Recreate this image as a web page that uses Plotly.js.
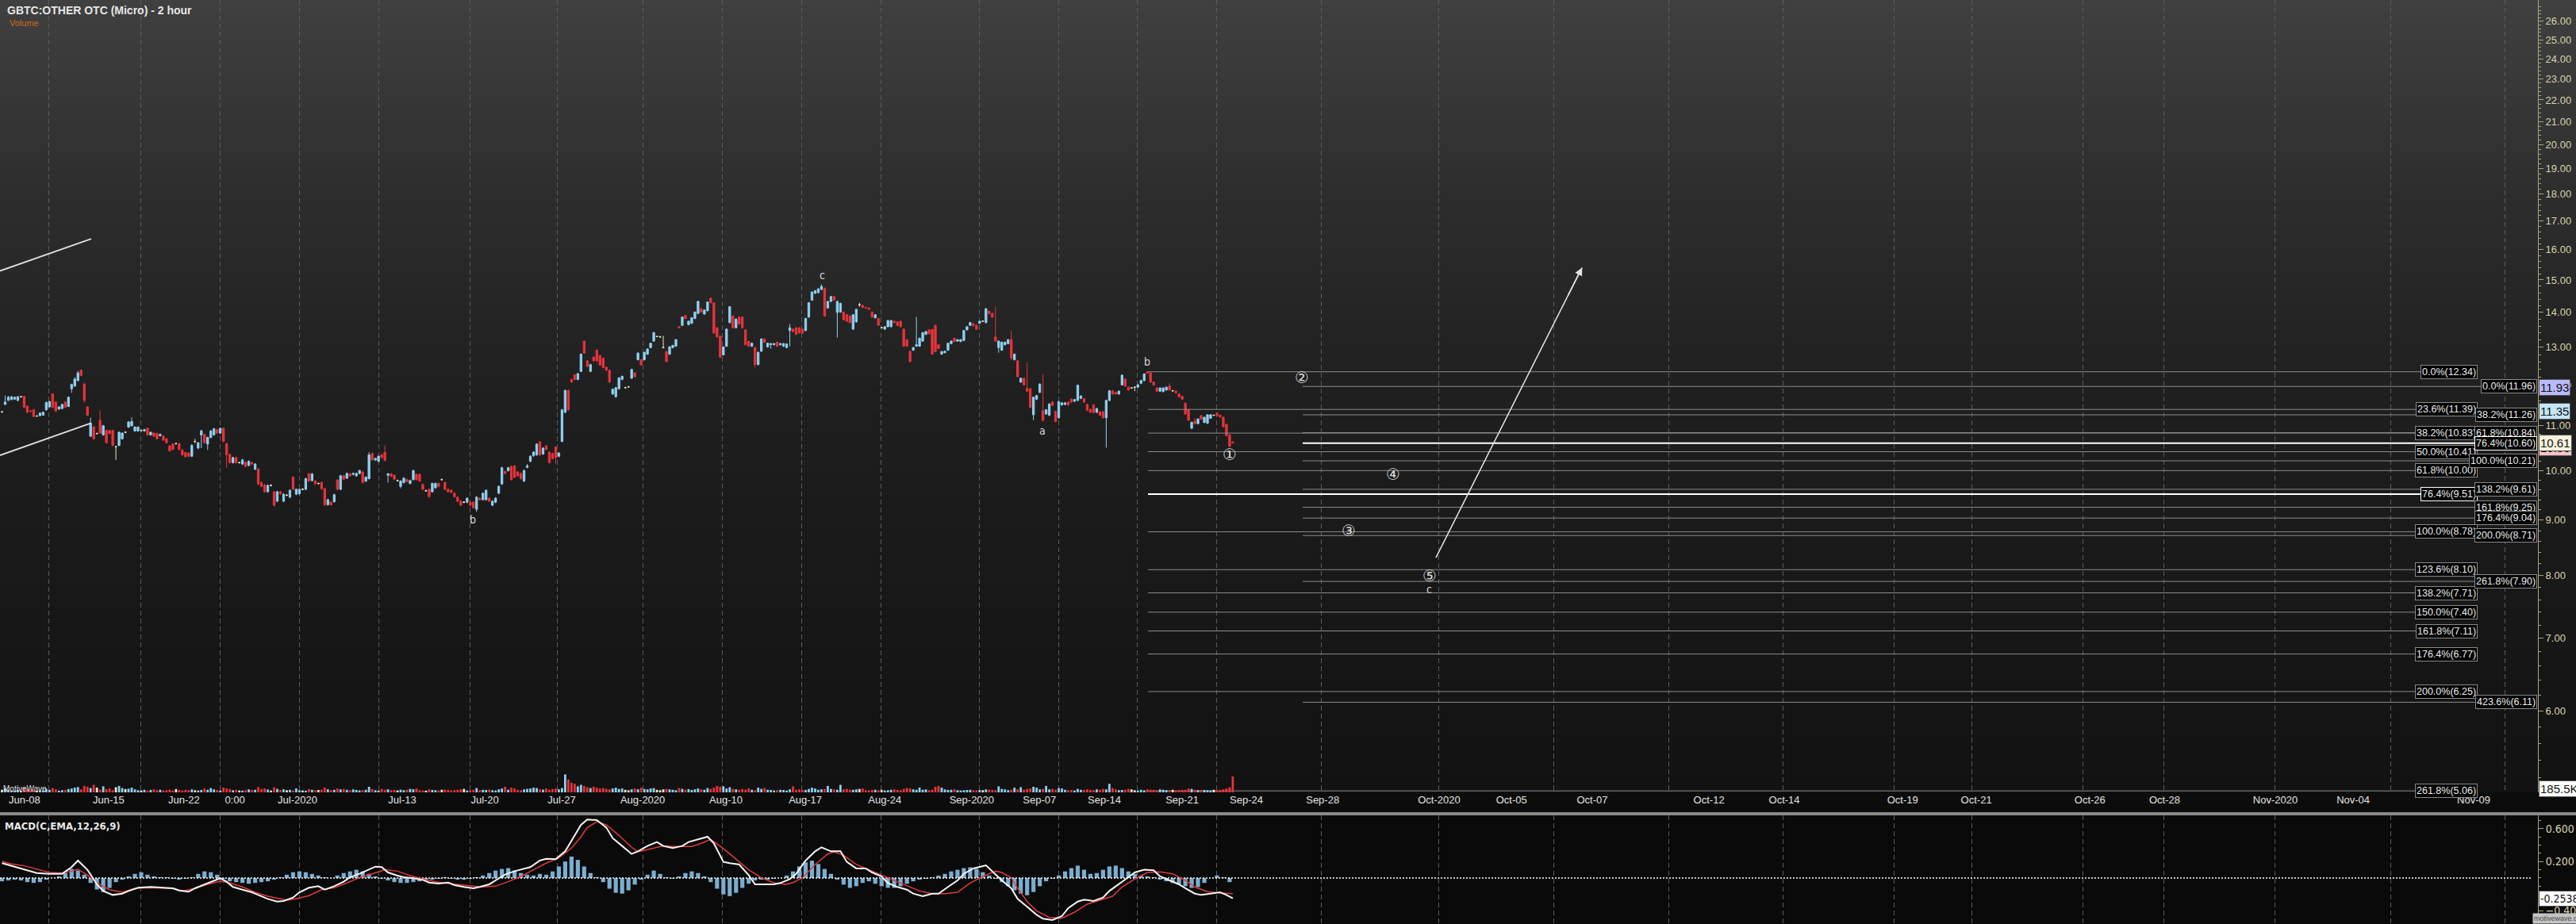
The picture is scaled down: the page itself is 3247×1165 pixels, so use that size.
<!DOCTYPE html>
<html><head><meta charset="utf-8">
<script src="https://cdn.plot.ly/plotly-3.0.1.min.js"></script>
<style>html,body{margin:0;padding:0;background:#0a0a0a;overflow:hidden}#chart{width:3247px;height:1165px}</style>
</head><body><div id="chart"></div>
<script>
// ---------------- DATA ----------------
const openP=[
11.33,11.51,11.61,11.63,11.64,11.61,11.70,11.71,11.47,11.35,
11.38,11.23,11.24,11.25,11.38,11.45,11.77,11.57,11.40,11.41,
11.57,11.46,11.90,11.97,12.11,12.38,12.02,11.45,10.76,10.97,
10.82,11.13,10.79,10.89,10.89,10.89,10.52,10.55,10.70,10.85,
10.97,11.00,10.88,10.88,10.89,10.88,10.94,10.79,10.83,10.82,
10.77,10.76,10.70,10.54,10.58,10.59,10.59,10.45,10.39,10.38,
10.31,10.64,10.49,10.79,10.80,10.58,10.73,10.79,10.91,10.83,
10.94,10.59,10.35,10.17,10.28,10.17,10.14,10.18,10.11,10.17,
10.03,10.03,9.75,9.70,9.56,9.69,9.56,9.37,9.56,9.37,
9.49,9.45,9.86,9.51,9.52,9.61,9.61,9.93,9.79,9.78,
9.73,9.75,9.62,9.30,9.35,9.36,9.80,9.61,9.89,9.84,
9.93,9.92,9.89,9.94,9.97,9.78,9.83,10.37,10.23,10.20,
10.34,10.40,9.90,9.93,9.90,9.79,9.67,9.75,9.81,9.73,
9.81,9.92,9.92,9.71,9.58,9.61,9.56,9.64,9.73,9.81,
9.75,9.61,9.59,9.53,9.45,9.37,9.35,9.35,9.35,9.35,
9.21,9.43,9.40,9.40,9.43,9.29,9.35,9.53,9.72,9.98,
10.00,10.09,10.10,9.97,9.94,9.78,10.07,10.20,10.32,10.34,
10.63,10.36,10.54,10.40,10.37,10.51,10.31,10.64,11.32,11.86,
12.14,12.26,12.14,12.35,13.17,12.63,12.35,12.73,12.92,12.77,
12.70,12.46,12.38,11.77,11.70,11.90,12.14,11.93,11.95,12.17,
12.31,12.66,12.66,12.66,12.81,12.99,13.17,13.30,13.29,12.99,
12.88,12.81,12.99,13.03,13.58,13.62,13.91,13.64,13.68,13.82,
13.97,14.11,13.95,14.05,14.43,14.29,13.55,13.31,12.79,13.03,
13.70,13.89,13.55,13.86,13.86,13.49,13.16,13.03,12.99,12.53,
12.89,13.23,13.01,13.07,13.07,13.14,13.07,13.03,12.99,13.47,
13.51,13.55,13.55,13.51,13.47,13.86,14.37,14.58,14.60,14.70,
14.74,14.13,14.33,14.48,14.00,14.01,14.01,13.93,13.89,13.51,
13.72,14.23,14.21,14.15,14.13,14.01,13.84,13.82,13.55,13.51,
13.58,13.58,13.74,13.72,13.74,13.51,13.21,12.89,12.92,13.03,
13.03,13.17,13.36,13.49,13.50,13.62,13.07,12.81,12.85,12.92,
13.10,13.25,13.17,13.16,13.19,13.49,13.62,13.66,13.62,13.68,
13.74,13.70,14.03,13.97,13.29,12.99,12.92,13.07,13.10,13.21,
12.66,12.63,12.07,12.17,11.91,11.90,11.26,11.64,11.81,11.36,
11.28,11.25,11.57,11.34,11.19,11.50,11.51,11.57,11.64,11.59,
11.61,11.66,11.65,11.51,11.39,11.50,11.32,11.33,11.33,11.19,
11.61,11.85,11.81,11.77,12.00,12.15,11.94,11.92,11.94,11.94,
12.04,12.11,12.33,12.31,12.07,11.92,11.84,11.83,11.87,11.97,
11.85,11.84,11.77,11.71,11.54,11.38,10.94,11.11,11.05,11.24,
11.08,11.06,11.18,11.25,11.30,11.25,11.20,11.03,10.79,10.63];
const highP=[
11.35,11.73,11.72,11.72,11.71,11.72,11.72,11.73,11.48,11.38,
11.40,11.25,11.32,11.34,11.58,11.60,11.79,11.59,11.47,11.53,
11.59,11.71,12.03,12.20,12.36,12.40,12.05,11.47,11.19,11.00,
10.84,11.36,11.02,10.91,10.91,10.91,10.54,10.87,10.85,10.87,
11.11,11.20,10.99,10.99,10.91,10.93,10.96,10.87,10.85,10.84,
10.82,10.78,10.72,10.56,10.60,10.61,10.61,10.47,10.41,10.40,
10.58,10.70,10.63,10.91,10.82,10.75,10.90,10.95,10.93,10.96,
10.96,10.61,10.37,10.30,10.30,10.19,10.25,10.20,10.22,10.19,
10.16,10.05,9.77,9.72,9.71,9.71,9.58,9.58,9.58,9.53,
9.51,9.61,9.88,9.63,9.63,9.63,9.85,9.95,9.95,9.80,
9.75,9.77,9.64,9.42,9.37,9.52,9.82,9.91,9.91,9.96,
9.95,9.96,9.96,10.02,9.99,9.88,10.40,10.39,10.28,10.33,
10.36,10.55,9.95,9.95,9.92,9.81,9.80,9.86,9.83,9.81,
10.02,9.94,9.94,9.73,9.60,9.63,9.75,9.75,9.75,9.83,
9.77,9.63,9.61,9.55,9.47,9.39,9.37,9.45,9.37,9.37,
9.47,9.45,9.55,9.61,9.45,9.39,9.45,9.69,10.08,10.00,
10.08,10.11,10.12,9.99,9.96,10.02,10.14,10.33,10.42,10.60,
10.65,10.51,10.56,10.42,10.39,10.53,10.40,11.40,11.88,11.88,
12.16,12.28,12.31,12.83,13.19,12.65,12.55,12.75,12.94,12.79,
12.72,12.48,12.40,11.91,11.95,12.20,12.24,11.95,11.97,12.42,
12.33,12.86,12.68,12.88,12.97,13.13,13.43,13.32,13.32,13.32,
12.90,13.03,13.07,13.23,13.60,13.88,13.93,13.76,13.86,14.03,
14.35,14.13,14.09,14.33,14.45,14.31,13.57,13.33,13.03,13.53,
14.19,13.91,13.82,13.88,13.88,13.51,13.18,13.13,13.01,12.88,
13.25,13.25,13.13,13.12,13.12,13.16,13.12,13.12,13.11,13.66,
13.53,13.57,13.57,13.53,13.84,14.31,14.64,14.68,14.74,14.86,
14.76,14.35,14.50,14.50,14.35,14.29,14.03,13.95,13.91,13.95,
14.11,14.29,14.23,14.17,14.15,14.03,13.95,13.84,13.57,13.60,
13.78,13.78,13.76,13.74,13.76,13.53,13.23,12.91,13.01,13.87,
13.27,13.43,13.46,13.51,13.52,13.64,13.09,12.90,12.91,13.13,
13.19,13.27,13.23,13.23,13.49,13.60,13.72,13.68,13.64,13.76,
13.76,14.13,14.05,13.99,14.17,13.19,13.16,13.16,13.23,13.47,
12.83,12.65,12.19,12.19,12.59,11.92,11.71,11.75,12.04,12.28,
11.40,11.54,11.59,11.36,11.60,11.57,11.57,11.59,11.66,11.65,
12.01,11.74,11.67,11.53,11.41,11.52,11.43,11.35,11.35,11.63,
11.87,11.87,11.83,11.86,12.27,12.17,11.96,11.94,11.96,12.02,
12.13,12.30,12.36,12.33,12.09,11.94,11.94,11.94,11.96,12.04,
11.87,11.86,11.79,11.73,11.56,11.40,11.10,11.18,11.18,11.26,
11.22,11.28,11.28,11.27,11.32,11.27,11.22,11.05,10.81,10.64];
const lowP=[
11.31,11.50,11.60,11.62,11.62,11.59,11.68,11.42,11.30,11.33,
11.20,11.21,11.22,11.24,11.36,11.44,11.42,11.33,11.38,11.40,
11.42,11.45,11.80,11.95,12.09,12.22,11.55,11.23,10.74,10.68,
10.80,10.81,10.77,10.59,10.80,10.53,10.23,10.53,10.68,10.83,
10.95,10.98,10.86,10.86,10.87,10.86,10.77,10.77,10.74,10.68,
10.75,10.65,10.59,10.41,10.44,10.57,10.44,10.32,10.28,10.29,
10.29,10.60,10.47,10.49,10.59,10.45,10.71,10.77,10.81,10.81,
10.62,10.06,10.15,10.15,10.15,10.15,10.12,10.07,10.09,10.12,
10.01,9.70,9.65,9.54,9.54,9.67,9.26,9.35,9.50,9.35,
9.47,9.43,9.59,9.49,9.50,9.59,9.59,9.76,9.77,9.70,
9.71,9.60,9.27,9.28,9.28,9.34,9.59,9.59,9.80,9.82,
9.87,9.90,9.87,9.92,9.73,9.76,9.81,10.21,10.21,10.18,
10.26,10.20,9.75,9.86,9.80,9.77,9.63,9.73,9.75,9.71,
9.79,9.79,9.76,9.59,9.56,9.44,9.54,9.62,9.65,9.79,
9.59,9.54,9.53,9.44,9.35,9.27,9.33,9.33,9.27,9.22,
9.16,9.38,9.38,9.38,9.35,9.27,9.33,9.51,9.70,9.92,
9.98,9.79,9.84,9.87,9.81,9.76,10.05,10.18,10.30,10.32,
10.32,10.34,10.44,10.15,10.24,10.15,10.29,10.62,11.30,11.36,
12.05,12.12,12.12,12.33,12.82,12.46,12.33,12.61,12.61,12.50,
12.43,12.36,12.05,11.75,11.68,11.88,12.12,11.91,11.93,12.15,
12.19,12.64,12.50,12.64,12.79,12.97,13.15,13.28,13.27,12.97,
12.59,12.79,12.97,13.01,13.53,13.60,13.80,13.62,13.66,13.80,
13.95,13.99,13.93,14.03,14.27,13.38,13.27,12.71,12.77,13.01,
13.68,13.53,13.53,13.64,13.53,13.05,13.01,13.01,12.45,12.51,
12.87,13.12,12.99,12.96,13.05,13.01,13.05,13.01,12.97,13.03,
13.42,13.34,13.38,13.38,13.45,13.84,14.35,14.56,14.58,14.68,
13.87,14.11,14.31,14.35,13.27,13.99,13.76,13.72,13.68,13.49,
13.70,14.17,14.13,14.11,14.07,13.84,13.82,13.60,13.53,13.49,
13.56,13.56,13.68,13.60,13.56,13.01,13.01,12.59,12.90,13.01,
13.01,13.15,13.34,13.36,12.79,12.86,12.95,12.79,12.83,12.90,
13.08,13.14,13.15,13.14,13.17,13.47,13.60,13.59,13.49,13.66,
13.72,13.68,13.95,13.84,13.15,12.85,12.90,13.05,13.08,12.66,
12.64,12.19,12.05,11.98,11.82,11.42,11.13,11.62,11.79,11.10,
11.26,11.23,11.47,11.08,11.17,11.48,11.49,11.48,11.55,11.57,
11.59,11.64,11.55,11.35,11.30,11.29,11.30,11.23,11.17,10.50,
11.59,11.75,11.75,11.75,11.98,11.95,11.85,11.90,11.84,11.92,
12.02,12.09,12.28,12.05,11.98,11.82,11.82,11.81,11.85,11.85,
11.83,11.78,11.68,11.62,11.26,11.11,10.93,11.03,11.03,11.14,
11.06,11.04,11.16,11.23,11.22,11.19,10.96,10.75,10.51,10.59];
const closeP=[
11.33,11.57,11.69,11.70,11.69,11.70,11.70,11.44,11.32,11.34,
11.22,11.23,11.30,11.32,11.56,11.58,11.44,11.35,11.45,11.51,
11.44,11.69,12.01,12.15,12.31,12.24,11.61,11.25,11.06,10.70,
10.82,10.83,11.00,10.61,10.82,10.55,10.52,10.85,10.83,10.85,
11.09,11.10,10.97,10.97,10.89,10.91,10.79,10.85,10.76,10.70,
10.80,10.67,10.61,10.43,10.46,10.59,10.46,10.34,10.30,10.31,
10.55,10.64,10.61,10.88,10.61,10.73,10.88,10.93,10.83,10.94,
10.64,10.34,10.17,10.28,10.17,10.17,10.23,10.09,10.20,10.14,
10.14,9.72,9.67,9.56,9.69,9.69,9.29,9.56,9.52,9.51,
9.49,9.59,9.61,9.61,9.61,9.61,9.83,9.78,9.93,9.72,
9.73,9.62,9.30,9.40,9.30,9.50,9.61,9.89,9.82,9.94,
9.89,9.94,9.94,10.00,9.75,9.86,10.34,10.23,10.26,10.31,
10.28,10.22,9.93,9.88,9.82,9.79,9.78,9.84,9.77,9.79,
10.00,9.81,9.78,9.61,9.58,9.46,9.73,9.73,9.67,9.81,
9.61,9.56,9.55,9.46,9.37,9.29,9.35,9.43,9.29,9.24,
9.45,9.40,9.53,9.59,9.37,9.37,9.43,9.67,10.06,9.94,
10.06,9.81,9.86,9.89,9.83,10.00,10.10,10.31,10.40,10.58,
10.34,10.49,10.46,10.17,10.26,10.28,10.38,11.38,11.86,11.38,
12.07,12.14,12.29,12.81,12.84,12.48,12.53,12.63,12.63,12.52,
12.45,12.38,12.07,11.89,11.93,12.18,12.22,11.93,11.95,12.40,
12.21,12.84,12.52,12.86,12.95,13.11,13.41,13.30,13.29,12.99,
12.61,13.01,13.05,13.21,13.55,13.86,13.82,13.74,13.84,14.01,
14.33,14.01,14.07,14.31,14.29,13.40,13.29,12.73,13.01,13.51,
14.17,13.55,13.80,13.66,13.55,13.07,13.03,13.11,12.53,12.86,
13.23,13.14,13.11,13.10,13.10,13.03,13.10,13.10,13.09,13.55,
13.44,13.36,13.40,13.40,13.82,14.29,14.62,14.66,14.72,14.80,
13.89,14.33,14.48,14.37,14.33,14.27,13.78,13.74,13.70,13.93,
14.09,14.23,14.15,14.13,14.09,13.86,13.93,13.62,13.55,13.58,
13.76,13.76,13.70,13.62,13.58,13.03,13.03,12.61,12.99,13.07,
13.25,13.41,13.44,13.38,12.81,12.88,12.97,12.88,12.89,13.11,
13.17,13.16,13.21,13.21,13.47,13.58,13.70,13.61,13.51,13.74,
13.74,14.11,13.97,13.86,13.17,13.17,13.14,13.14,13.21,12.70,
12.81,12.21,12.17,12.00,11.84,11.44,11.69,11.73,12.02,11.13,
11.38,11.52,11.49,11.10,11.58,11.55,11.55,11.50,11.57,11.63,
11.99,11.72,11.57,11.37,11.32,11.31,11.41,11.25,11.19,11.61,
11.85,11.77,11.77,11.84,12.25,11.97,11.87,11.92,11.94,12.00,
12.11,12.28,12.30,12.07,12.00,11.84,11.92,11.92,11.94,11.87,
11.85,11.80,11.70,11.64,11.28,11.13,11.08,11.05,11.16,11.16,
11.20,11.26,11.26,11.25,11.24,11.21,10.98,10.77,10.53,10.61];
// volume in thousands
const volumeK=[
30,45,25,22,20,28,18,55,38,22, 20,18,25,22,40,30,50,35,20,25,
28,38,45,55,62,35,75,65,50,88, 55,30,70,38,45,25,60,75,50,38,
42,55,35,25,22,30,20,28,35,25, 30,22,25,32,20,38,28,22,30,25,
35,25,22,28,45,30,50,35,28,22, 55,45,40,25,30,22,20,25,35,28,
30,62,38,45,32,22,60,40,28,35, 25,30,22,45,25,22,20,38,30,25,
28,32,55,35,25,30,45,35,40,30, 25,35,28,22,25,30,65,38,25,22,
40,30,35,25,28,22,32,25,30,40, 35,45,25,22,20,35,28,25,22,30,
32,28,22,25,30,35,40,22,25,30, 50,25,30,28,32,25,22,35,45,65,
30,55,45,28,25,35,40,45,55,50, 35,32,45,30,38,42,35,50,210,150,
112,100,70,88,75,60,50,65,55,45, 50,40,35,45,55,40,45,30,25,35,
45,35,55,40,35,45,50,30,25,35, 40,35,30,25,50,40,30,38,28,35,
45,35,30,50,40,55,75,65,70,45, 60,40,35,30,38,32,45,30,25,55,
40,50,30,28,22,25,30,28,22,35, 70,30,35,30,28,40,55,45,30,35,
40,75,40,35,30,88,35,40,32,30, 35,40,45,25,22,28,30,25,30,22,
25,30,35,28,25,40,50,45,35,30, 55,30,35,25,30,65,75,55,35,28,
30,35,25,22,25,28,30,25,22,28, 25,35,30,28,25,70,40,35,25,30,
55,35,60,30,40,45,65,55,35,40, 75,35,40,30,50,45,30,25,28,22,
40,30,28,35,30,25,35,30,40,35, 100,50,35,25,28,30,40,35,25,22,
30,25,35,30,28,22,35,30,25,25, 30,22,25,28,30,45,40,30,25,30,
28,25,22,30,25,28,35,45,60,185.5];
// MACD (12,26,9)
const macdX=[0,3,7,11,15,19,22,24,27,30,32,35,38,40,43,47,51,54,56,59,61,64,67,69,71,73,76,79,81,84,87,89,92,94,97,100,102,105,108,110,113,116,118,120,122,125,127,130,133,135,138,141,143,146,149,151,154,156,159,162,164,167,170,172,175,178,180,183,185,188,191,193,196,199,201,204,207,209,212,215,217,220,223,225,228,230,233,236,238,241,244,246,249,251,254,257,259,262,265,267,270,273,275,278,280,283,286,288,291,294,296,299,302,304,307,311,313,316,319,321,324,327,329,332,335,337,340,342,345,348,350,353,356,358,361,364,366,369,372,374,377,379,382,385,387,389];
const macdY=[0.180,0.148,0.100,0.061,0.051,0.051,0.132,0.212,0.100,-0.077,-0.158,-0.206,-0.190,-0.158,-0.119,-0.109,-0.119,-0.125,-0.151,-0.167,-0.125,-0.077,-0.029,-0.003,-0.045,-0.109,-0.142,-0.174,-0.206,-0.254,-0.286,-0.280,-0.238,-0.174,-0.119,-0.100,-0.142,-0.100,-0.045,0.009,0.051,0.100,0.138,0.132,0.067,0.029,0.009,-0.003,-0.023,-0.055,-0.068,-0.055,-0.087,-0.109,-0.125,-0.109,-0.077,-0.029,0.042,0.083,0.100,0.132,0.212,0.234,0.228,0.324,0.453,0.646,0.710,0.703,0.613,0.485,0.389,0.292,0.324,0.389,0.437,0.389,0.363,0.389,0.437,0.469,0.501,0.421,0.196,0.180,0.164,0.035,-0.077,-0.077,-0.077,-0.061,-0.013,0.051,0.212,0.324,0.373,0.324,0.324,0.196,0.116,0.116,0.067,0.019,-0.061,-0.109,-0.142,-0.190,-0.222,-0.190,-0.190,-0.109,-0.029,0.051,0.116,0.154,0.083,-0.029,-0.125,-0.254,-0.350,-0.447,-0.495,-0.511,-0.463,-0.366,-0.286,-0.264,-0.280,-0.238,-0.158,-0.077,0.009,0.067,0.100,0.093,0.019,-0.029,-0.077,-0.125,-0.190,-0.206,-0.190,-0.174,-0.206,-0.248];
const signalX=[0,3,7,11,15,19,22,24,27,30,34,38,42,46,50,54,57,61,65,69,72,76,80,84,88,90,93,97,101,105,109,113,117,121,125,129,133,137,141,145,149,152,156,160,164,168,172,176,180,183,185,188,191,195,199,201,205,209,212,216,218,221,224,228,232,236,240,244,248,250,253,257,261,263,266,270,274,278,282,286,290,294,298,302,306,310,314,316,319,321,324,327,331,335,339,343,347,351,354,358,362,366,370,374,377,381,385,389];
const signalY=[0.202,0.170,0.148,0.106,0.067,0.061,0.083,0.106,0.035,-0.061,-0.142,-0.174,-0.125,-0.119,-0.119,-0.125,-0.158,-0.125,-0.077,-0.039,-0.061,-0.109,-0.174,-0.222,-0.254,-0.270,-0.254,-0.215,-0.142,-0.119,-0.061,0.003,0.051,0.100,0.083,0.029,-0.013,-0.045,-0.068,-0.087,-0.100,-0.109,-0.100,-0.045,0.019,0.100,0.180,0.244,0.363,0.501,0.613,0.684,0.646,0.517,0.373,0.318,0.356,0.389,0.382,0.382,0.382,0.421,0.469,0.357,0.228,0.100,0.003,-0.061,-0.077,-0.055,0.003,0.164,0.292,0.318,0.276,0.164,0.100,0.035,-0.029,-0.093,-0.158,-0.190,-0.190,-0.174,-0.061,0.019,0.083,0.067,0.003,-0.125,-0.286,-0.399,-0.479,-0.489,-0.415,-0.318,-0.270,-0.222,-0.109,-0.013,0.067,0.074,0.051,-0.029,-0.109,-0.167,-0.180,-0.190];
// histogram, one value per two bars
const histY=[-0.04,-0.03,-0.02,-0.03,-0.05,-0.06,-0.05,-0.02,0.00,0.02,
0.06,0.11,0.09,0.04,-0.06,-0.14,-0.17,-0.12,-0.05,-0.02,
0.02,0.05,0.07,0.04,0.02,0.01,0.01,-0.01,-0.02,-0.01,
0.01,0.05,0.08,0.07,0.04,-0.01,-0.04,-0.05,-0.06,-0.07,
-0.06,-0.05,-0.04,-0.02,0.01,0.04,0.07,0.08,0.07,0.05,
0.03,0.01,0.00,0.03,0.06,0.08,0.10,0.08,0.05,0.02,
-0.01,-0.03,-0.05,-0.06,-0.06,-0.05,-0.04,-0.03,-0.02,-0.01,
0.01,-0.01,-0.02,-0.02,-0.01,0.01,0.03,0.06,0.09,0.11,
0.12,0.09,0.06,0.04,0.03,0.05,0.04,0.08,0.14,0.20,
0.26,0.22,0.14,0.06,0.01,-0.05,-0.13,-0.18,-0.19,-0.15,
-0.08,-0.02,0.04,0.09,0.05,0.01,-0.01,0.02,0.06,0.08,
0.06,0.02,-0.05,-0.13,-0.20,-0.22,-0.18,-0.12,-0.07,-0.03,
-0.02,-0.02,-0.01,0.00,0.03,0.08,0.14,0.19,0.21,0.17,
0.11,0.05,-0.02,-0.08,-0.12,-0.10,-0.06,-0.04,-0.07,-0.10,
-0.12,-0.12,-0.10,-0.07,-0.04,-0.02,-0.01,0.01,0.03,0.05,
0.08,0.10,0.12,0.13,0.11,0.07,0.03,-0.01,-0.05,-0.10,
-0.15,-0.19,-0.21,-0.17,-0.10,-0.04,-0.01,0.03,0.08,0.12,
0.15,0.10,0.05,0.06,0.10,0.14,0.15,0.12,0.08,0.05,
0.03,0.02,0.01,-0.02,-0.04,-0.06,-0.08,-0.10,-0.12,-0.11,
-0.06,0.00,0.03,0.01,-0.05];
// time axis (bar-index positions of the date labels and of the dashed grid)
const tickIdx=[7.1,33.7,57.5,73.6,93.4,126.5,152.6,176.9,202.5,228.8,253.9,279.0,306.5,327.9,348.4,373.0,393.3,417.4,454.2,477.1,502.6,539.5,563.3,600.7,624.0,659.9,683.5,718.5,743.1,781.2];
const tickText=['Jun-08','Jun-15','Jun-22','0:00','Jul-2020','Jul-13','Jul-20','Jul-27','Aug-2020','Aug-10','Aug-17','Aug-24','Sep-2020','Sep-07','Sep-14','Sep-21','Sep-24','Sep-28','Oct-2020','Oct-05','Oct-07','Oct-12','Oct-14','Oct-19','Oct-21','Oct-26','Oct-28','Nov-2020','Nov-04','Nov-09'];
const gridIdx=[14.8,43.9,69.0,94.1,119.1,147.9,175.6,202.5,227.7,252.8,277.7,308.8,333.9,358.8,383.8,417.1,454.2,490.4,526.7,562.8,597.9,622.7,657.8,683.2,718.5,754.9,791.0];
const priceTicks=[6,7,8,9,10,11,12,13,14,15,16,17,18,19,20,21,22,23,24,25,26];
const macdTicks=[0.6,0.2,-0.2,-0.4];
// Fibonacci tools
const fibAPct=['0.0%','23.6%','38.2%','50.0%','61.8%','76.4%','100.0%','123.6%','138.2%','150.0%','161.8%','176.4%','200.0%','261.8%'];
const fibAPrice=[12.34,11.39,10.83,10.41,10.00,9.51,8.78,8.10,7.71,7.40,7.11,6.77,6.25,5.06];
const fibBPct=['0.0%','38.2%','61.8%','76.4%','100.0%','138.2%','161.8%','176.4%','200.0%','261.8%','423.6%'];
const fibBPrice=[11.96,11.26,10.84,10.60,10.21,9.61,9.25,9.04,8.71,7.90,6.11];
const fibAFromIdx=362.2, fibAToIdx=781.0, fibBFromIdx=411.1, fibBToIdx=800.3;
// wave labels
const waveText=['b','c','a','b','①','②','③','④','⑤','c'];
const waveIdx=[148.8,259.2,328.9,362.0,388.0,410.9,425.7,439.7,451.2,451.2];
const wavePrice=[9.01,15.15,10.89,12.61,10.35,12.19,8.80,9.92,7.99,7.77];
// drawn lines
const chanUpIdx=[-0.63,28.2], chanUpPrice=[15.29,16.37];
const chanLoIdx=[-0.63,28.2], chanLoPrice=[10.33,11.065];
const arrowIdx=[453.2,499.4], arrowPrice=[8.31,15.40];
// axis value markers
const markPrice=[11.93,11.35,10.50,10.61];
const markColor=['#b9b9ff','#c3e6f8','#f6c3c6','#f6f2dc'];
const lastVolumeText='185.5K', lastMacd=-0.2538;

// ---------------- LAYOUT GEOMETRY ----------------
const W=3247,H=1165;
const PLOT_RIGHT=3199, MAIN_BOTTOM=999, MACD_TOP=1028;
const X_RANGE=[-0.63,801.5];
const Y_RANGE=[0.7028,1.4347];
const MACD_RANGE=[-0.559,0.761];
const px=x=>x/W, py=y=>1-y/H;
const FONT='Liberation Sans, Arial, sans-serif';
const NARROW='Liberation Sans Narrow, DejaVu Sans Condensed, Arial Narrow, sans-serif';
const UP='#8fd0f0', DN='#e8333b', FLAT='#efe7c9';
const AXC='#aaa27a', AXT='#d9d2ab';

const N=closeP.length;
const idx=[...Array(N).keys()];
function group(test){
  const g={x:[],o:[],h:[],l:[],c:[]};
  for(let i=0;i<N;i++){ if(test(i)){g.x.push(i);g.o.push(openP[i]);g.h.push(highP[i]);g.l.push(lowP[i]);g.c.push(closeP[i]);} }
  return g;
}
function candle(g,col){
  return {type:'candlestick',x:g.x,open:g.o,high:g.h,low:g.l,close:g.c,xaxis:'x',yaxis:'y',
    increasing:{line:{color:col,width:1},fillcolor:col},decreasing:{line:{color:col,width:1},fillcolor:col},
    whiskerwidth:0,hoverinfo:'skip',showlegend:false};
}
const upG=group(i=>closeP[i]>openP[i]), dnG=group(i=>closeP[i]<openP[i]), flG=group(i=>closeP[i]===openP[i]);
const volColor=idx.map(i=>closeP[i]>openP[i]?UP:(closeP[i]<openP[i]?DN:FLAT));

function fibLines(from,to,prices,pcts,white){
  const x=[],y=[];
  prices.forEach((p,k)=>{ if((pcts[k]==='76.4%')===white){ x.push(from,to,null); y.push(p,p,null);} });
  return {type:'scatter',mode:'lines',x:x,y:y,xaxis:'x',yaxis:'y',hoverinfo:'skip',
    line:{color:white?'#ffffff':'#8c8c8c',width:white?2:1}};
}

const traces=[
  {type:'bar',x:idx,y:volumeK,xaxis:'x',yaxis:'y3',marker:{color:volColor,line:{width:0}},width:0.7,hoverinfo:'skip'},
  fibLines(fibAFromIdx,fibAToIdx,fibAPrice,fibAPct,false),
  fibLines(fibBFromIdx,fibBToIdx,fibBPrice,fibBPct,false),
  fibLines(fibAFromIdx,fibAToIdx,fibAPrice,fibAPct,true),
  fibLines(fibBFromIdx,fibBToIdx,fibBPrice,fibBPct,true),
  {type:'scatter',mode:'lines',x:chanUpIdx,y:chanUpPrice,xaxis:'x',yaxis:'y',line:{color:'#dcdcdc',width:2},hoverinfo:'skip'},
  {type:'scatter',mode:'lines',x:chanLoIdx,y:chanLoPrice,xaxis:'x',yaxis:'y',line:{color:'#dcdcdc',width:2},hoverinfo:'skip'},
  {type:'scatter',mode:'lines',x:arrowIdx,y:arrowPrice,xaxis:'x',yaxis:'y',line:{color:'#e4e4e4',width:1.5},hoverinfo:'skip'},
  candle(upG,UP), candle(dnG,DN), candle(flG,FLAT),
  // MACD panel
  {type:'bar',x:histY.map((v,k)=>k*2),y:histY,xaxis:'x2',yaxis:'y2',marker:{color:'#7aaed0',line:{width:0}},width:1.3,hoverinfo:'skip'},
  {type:'scatter',mode:'lines',x:[X_RANGE[0],799.5],y:[0,0],xaxis:'x2',yaxis:'y2',line:{color:'#ffffff',width:1.5,dash:'2px,2px'},hoverinfo:'skip'},
  {type:'scatter',mode:'lines',x:signalX,y:signalY,xaxis:'x2',yaxis:'y2',line:{color:'#e23a3a',width:1.5},hoverinfo:'skip'},
  {type:'scatter',mode:'lines',x:macdX,y:macdY,xaxis:'x2',yaxis:'y2',line:{color:'#f5f5f5',width:2},hoverinfo:'skip'}
];

// background: vertical gradient for the price panel
const shapes=[];
const gStopY=[0,250,500,750,1000], gStopV=[64,45,31,24,18];
function gLevel(y){ for(let k=0;k<gStopY.length-1;k++){ if(y<=gStopY[k+1]){ const t=(y-gStopY[k])/(gStopY[k+1]-gStopY[k]); return Math.round(gStopV[k]+t*(gStopV[k+1]-gStopV[k])); } } return gStopV[gStopV.length-1]; }
for(let y=0;y<MAIN_BOTTOM;y+=8){
  const v=gLevel(y+4);
  shapes.push({type:'rect',xref:'paper',yref:'paper',x0:0,x1:1,y0:py(Math.min(y+8,MAIN_BOTTOM)),y1:py(y),fillcolor:`rgb(${v},${v},${v})`,line:{width:0},layer:'below'});
}
shapes.push({type:'rect',xref:'paper',yref:'paper',x0:0,x1:1,y0:py(1024),y1:py(MAIN_BOTTOM),fillcolor:'#0c0c0c',line:{width:0},layer:'below'});
shapes.push({type:'rect',xref:'paper',yref:'paper',x0:0,x1:1,y0:py(MACD_TOP),y1:py(1024),fillcolor:'#8a8a8a',line:{width:0},layer:'below'});

const annotations=[];
function txt(x,y,text,font,extra){ annotations.push(Object.assign({xref:'paper',yref:'paper',x:px(x),y:py(y),text:text,showarrow:false,xanchor:'left',yanchor:'middle',font:font},extra||{})); }
txt(7,13,'<b>GBTC:OTHER OTC (Micro) - 2 hour</b>',{family:FONT,size:14,color:'#e6e6e6'});
txt(10,29,'Volume',{family:FONT,size:11,color:'#d0691f'});
txt(2,994,'MotiveWave',{family:FONT,size:10,color:'#e0e0e0'});
txt(4,1041,'<b>MACD(C,EMA,12,26,9)</b>',{family:NARROW,size:13,color:'#e8e8e8'});
txt(3192,1158,'motivewave.com',{family:FONT,size:9,color:'#4a4a4a'},{bgcolor:'#c4c4c4',borderpad:1});

function fibLabels(pcts,prices,rightPx){
  pcts.forEach((p,k)=>{
    const white=p==='76.4%';
    annotations.push({xref:'paper',yref:'y',x:px(rightPx),y:Math.log10(prices[k]),xanchor:'right',yanchor:'middle',
      text:`${p}(${prices[k].toFixed(2)})`,showarrow:false,font:{family:FONT,size:12.5,color:'#ededed'},
      bgcolor:'#000000',bordercolor:white?'#ffffff':'#8a8a8a',borderwidth:1,borderpad:1});
  });
}
fibLabels(fibAPct,fibAPrice,3123);
fibLabels(fibBPct,fibBPrice,3198);

waveText.forEach((t,k)=>{
  const circ=/[①-⑤]/.test(t);
  annotations.push({xref:'x',yref:'y',x:waveIdx[k],y:Math.log10(wavePrice[k]),text:t,showarrow:false,
    xanchor:'center',yanchor:'middle',font:{family:circ?'DejaVu Sans, Noto Sans CJK SC':NARROW,size:circ?20:14,color:'#dadada'}});
});
// arrow head of the projection line
annotations.push({xref:'x',yref:'y',axref:'x',ayref:'y',x:arrowIdx[1],y:Math.log10(arrowPrice[1]),
  ax:arrowIdx[0]+ (arrowIdx[1]-arrowIdx[0])*0.9, ay:Math.log10(arrowPrice[0])+(Math.log10(arrowPrice[1])-Math.log10(arrowPrice[0]))*0.9,
  text:'',showarrow:true,arrowhead:2,arrowsize:1.3,arrowwidth:1.5,arrowcolor:'#e4e4e4',standoff:0});

markPrice.forEach((p,k)=>{
  annotations.push({xref:'paper',yref:'y',x:px(3200),y:Math.log10(p),xanchor:'left',yanchor:'middle',text:p.toFixed(2),
    showarrow:false,font:{family:FONT,size:15,color:'#111111'},bgcolor:markColor[k],bordercolor:'#555',borderwidth:1,borderpad:1});
});
txt(3200,994,lastVolumeText,{family:FONT,size:15,color:'#111111'},{bgcolor:'#ffffff',bordercolor:'#555',borderwidth:1,borderpad:1});
annotations.push({xref:'paper',yref:'y2',x:px(3200),y:lastMacd,xanchor:'left',yanchor:'middle',text:lastMacd.toFixed(4),
  showarrow:false,font:{family:NARROW,size:14,color:'#111111'},bgcolor:'#ffffff',bordercolor:'#555',borderwidth:1,borderpad:1});

const priceMinor=[]; for(let v=5.2;v<27;v+=0.2){ const r=Math.round(v*10)/10; if(Math.abs(r-Math.round(r))>0.01) priceMinor.push(r); }
const macdMinor=[0.7,0.5,0.4,0.3,0.1,0,-0.1,-0.3,-0.5];

const xMinor={tickmode:'array',tickvals:gridIdx,showgrid:true,gridcolor:'#5c5c5c',griddash:'6px,4px',gridwidth:1,ticks:''};
const layout={
  width:W,height:H,margin:{l:0,r:0,t:0,b:0,pad:0},
  paper_bgcolor:'#0a0a0a',plot_bgcolor:'rgba(0,0,0,0)',
  showlegend:false,hovermode:false,
  boxgap:0.42,boxgroupgap:0,barmode:'overlay',
  font:{family:FONT,color:'#dddddd'},
  xaxis:{domain:[0,px(PLOT_RIGHT)],range:X_RANGE,anchor:'y',tickmode:'array',tickvals:tickIdx,ticktext:tickText,
    showgrid:false,zeroline:false,showline:false,ticks:'',tickfont:{family:FONT,size:13,color:'#e4e4e4'},
    rangeslider:{visible:false},minor:xMinor,fixedrange:true},
  yaxis:{type:'log',domain:[py(MAIN_BOTTOM),1],range:Y_RANGE,side:'right',anchor:'x',tickmode:'array',tickvals:priceTicks,
    tickformat:'.2f',showgrid:false,zeroline:false,showline:true,linecolor:AXC,linewidth:1,ticks:'outside',ticklen:6,
    tickcolor:AXC,tickfont:{family:FONT,size:13,color:AXT},
    minor:{tickmode:'array',tickvals:priceMinor,ticks:'outside',ticklen:3,tickcolor:AXC,showgrid:false},fixedrange:true},
  yaxis3:{overlaying:'y',anchor:'x',range:[0,9270],visible:false,fixedrange:true},
  xaxis2:{domain:[0,px(PLOT_RIGHT)],matches:'x',anchor:'y2',showticklabels:false,showgrid:false,zeroline:false,
    showline:false,ticks:'',minor:xMinor,fixedrange:true},
  yaxis2:{domain:[0,py(MACD_TOP)],range:MACD_RANGE,side:'right',anchor:'x2',tickmode:'array',tickvals:macdTicks,
    tickformat:'.3f',showgrid:false,zeroline:false,showline:true,linecolor:AXC,linewidth:1,ticks:'outside',ticklen:6,
    tickcolor:AXC,tickfont:{family:NARROW,size:14,color:AXT},
    minor:{tickmode:'array',tickvals:macdMinor,ticks:'outside',ticklen:3,tickcolor:AXC,showgrid:false},fixedrange:true},
  shapes:shapes,annotations:annotations
};
Plotly.newPlot('chart',traces,layout,{displayModeBar:false,staticPlot:true});
</script></body></html>
